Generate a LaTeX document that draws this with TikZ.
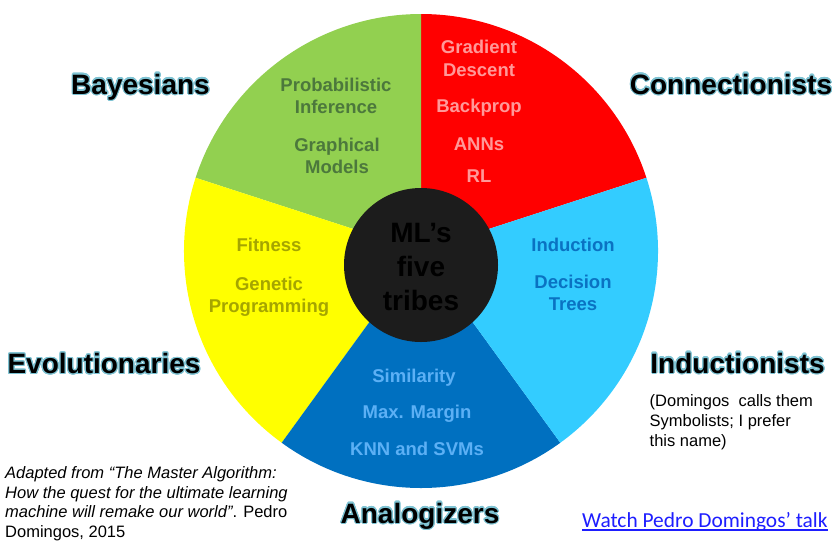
\documentclass[tikz,border=0pt]{standalone}
\usepackage{fontspec}
\setmainfont{Liberation Sans}
\newfontfamily\linkfont{Carlito}
\usepackage[copies]{contour}
\contournumber{24}
\contourlength{1.1pt}
\usetikzlibrary{calc}

\definecolor{pieGreen}{HTML}{92D050}
\definecolor{pieRed}{HTML}{FF0000}
\definecolor{pieCyan}{HTML}{33CCFF}
\definecolor{pieBlue}{HTML}{0070C0}
\definecolor{pieYellow}{HTML}{FFFF00}
\definecolor{hubGray}{HTML}{1C1C1C}
\definecolor{txtGreen}{HTML}{4C783C}
\definecolor{txtRed}{HTML}{FF9999}
\definecolor{txtCyan}{HTML}{0A72C2}
\definecolor{txtYellow}{HTML}{A5A500}
\definecolor{txtBlue}{HTML}{5CB0F5}
\definecolor{glowTeal}{HTML}{7EC3D3}
\definecolor{linkBlue}{HTML}{1E1EFF}

\begin{document}
\begin{tikzpicture}[x=1pt,y=-1pt,
  slicetxt/.style={anchor=base, inner sep=0pt,
    font=\fontsize{18.5}{22}\selectfont\bfseries},
  hubtxt/.style={anchor=base, inner sep=0pt, text=black,
    font=\fontsize{28}{32}\selectfont\bfseries},
  tribe/.style={anchor=base, inner sep=0pt, text=black,
    font=\fontsize{28}{32}\selectfont\bfseries},
  note/.style={anchor=base west, inner sep=0pt,
    font=\fontsize{16.5}{20}\selectfont}
]
\useasboundingbox (0,0) rectangle (837,542);
\fill[white] (0,0) rectangle (837,542);

% pie of five equal wedges
\coordinate (C) at (421,251);
\fill[pieRed]    (C) -- ++(-18:237)  arc[start angle=-18,  end angle=-90,  radius=237] -- cycle;
\fill[pieGreen]  (C) -- ++(-90:237)  arc[start angle=-90,  end angle=-162, radius=237] -- cycle;
\fill[pieYellow] (C) -- ++(-162:237) arc[start angle=-162, end angle=-234, radius=237] -- cycle;
\fill[pieBlue]   (C) -- ++(-234:237) arc[start angle=-234, end angle=-306, radius=237] -- cycle;
\fill[pieCyan]   (C) -- ++(-306:237) arc[start angle=-306, end angle=-378, radius=237] -- cycle;

% hub
\node[circle, fill=hubGray, minimum size=154pt, inner sep=0pt] (hub) at (421,265) {};
\node[hubtxt] (hub1) at (421,242) {ML’s};
\node[hubtxt] (hub2) at (421,276) {five};
\node[hubtxt] (hub3) at (421,310) {tribes};

% Bayesians wedge
\node[slicetxt, text=txtGreen] (g1) at (336,91)  {Probabilistic};
\node[slicetxt, text=txtGreen] (g2) at (336,113) {Inference};
\node[slicetxt, text=txtGreen] (g3) at (337,151) {Graphical};
\node[slicetxt, text=txtGreen] (g4) at (337,173) {Models};

% Connectionists wedge
\node[slicetxt, text=txtRed] (r1) at (479,53)  {Gradient};
\node[slicetxt, text=txtRed] (r2) at (479,76)  {Descent};
\node[slicetxt, text=txtRed] (r3) at (479,112) {Backprop};
\node[slicetxt, text=txtRed] (r4) at (479,150) {ANNs};
\node[slicetxt, text=txtRed] (r5) at (479,182) {RL};

% Inductionists wedge
\node[slicetxt, text=txtCyan] (c1) at (573,251) {Induction};
\node[slicetxt, text=txtCyan] (c2) at (573,288) {Decision};
\node[slicetxt, text=txtCyan] (c3) at (573,310) {Trees};

% Evolutionaries wedge
\node[slicetxt, text=txtYellow] (y1) at (269,251.5) {Fitness};
\node[slicetxt, text=txtYellow] (y2) at (269,290)   {Genetic};
\node[slicetxt, text=txtYellow] (y3) at (269,312.5) {Programming};

% Analogizers wedge
\node[slicetxt, text=txtBlue] (b1) at (414,382) {Similarity};
\node[slicetxt, text=txtBlue] (b2) at (417,418) {Max. Margin};
\node[slicetxt, text=txtBlue] (b3) at (417,455) {KNN and SVMs};

% tribe names, black with a soft teal halo
\node[tribe] (bayes) at (140.5,94)   {\contour{glowTeal}{Bayesians}};
\node[tribe] (conn)  at (731,94)     {\contour{glowTeal}{Connectionists}};
\node[tribe] (evol)  at (104,373.5)  {\contour{glowTeal}{Evolutionaries}};
\node[tribe] (induc) at (737.5,373)  {\contour{glowTeal}{Inductionists}};
\node[tribe] (anal)  at (420,523)    {\contour{glowTeal}{Analogizers}};

% side note
\node[note] (n1) at (649.5,406) {(Domingos\ \ calls them};
\node[note] (n2) at (649.5,426) {Symbolists; I prefer};
\node[note] (n3) at (649.5,446) {this name)};

% source
\node[note] (s1) at (5,478.5) {\itshape Adapted from “The Master Algorithm:};
\node[note] (s2) at (5,498)   {\itshape How the quest for the ultimate learning};
\node[note] (s3) at (5,517.5) {{\itshape machine will remake our world”}. Pedro};
\node[note] (s4) at (5,537)   {Domingos, 2015};

% link
\node[anchor=base west, inner sep=0pt, text=linkBlue,
      font=\linkfont\fontsize{21.4}{24}\selectfont] (link) at (582,527) {Watch Pedro Domingos’ talk};
\draw[linkBlue, line width=1.3pt] ($(link.base west)+(0,3)$) -- ($(link.base east)+(0,3)$);
\end{tikzpicture}
\end{document}
